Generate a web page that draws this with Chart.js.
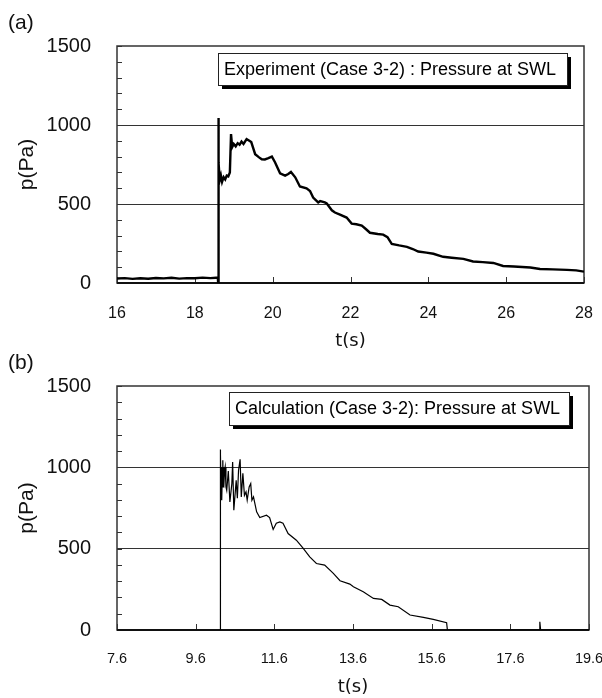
<!DOCTYPE html>
<html>
<head>
<meta charset="utf-8">
<script src="https://cdn.jsdelivr.net/npm/chart.js@4.4.1/dist/chart.umd.min.js"></script>
<style>
  body { margin: 0; background: #fff; }
  #wrap { position: relative; width: 602px; height: 698px; }
  canvas { position: absolute; left: 0; }
  .panel { position: absolute; font: 21px "Liberation Sans", Arial, sans-serif; color: #111; line-height: 1; }
</style>
</head>
<body>
<div id="wrap">
  <canvas id="chartA" width="602" height="352" style="top:0"></canvas>
  <canvas id="chartB" width="602" height="358" style="top:340px"></canvas>
  <div class="panel" style="left:8px;top:11px">(a)</div>
  <div class="panel" style="left:8px;top:351px">(b)</div>
</div>
<script>
// (a) experiment
const expTime = [16.0, 16.2, 16.4, 16.6, 16.8, 17.0, 17.2, 17.4, 17.6, 17.8, 18.0, 18.2, 18.4, 18.55, 18.59,
  18.6, 18.6, 18.61, 18.62, 18.64, 18.67, 18.70, 18.74, 18.78, 18.82, 18.86, 18.90, 18.93, 18.96, 19.0,
  19.05, 19.1, 19.15, 19.2, 19.25, 19.33, 19.4, 19.45, 19.55, 19.65, 19.72, 19.8, 19.89, 19.98, 20.06,
  20.19, 20.32, 20.40, 20.47, 20.58, 20.70, 20.87, 20.96, 21.04, 21.17, 21.22, 21.34, 21.39, 21.52, 21.60,
  21.73, 21.90, 22.03, 22.15, 22.29, 22.40, 22.50, 22.70, 22.84, 22.95, 23.06, 23.25, 23.45, 23.60, 23.74,
  23.95, 24.13, 24.38, 24.6, 24.90, 25.15, 25.4, 25.67, 25.92, 26.2, 26.62, 26.87, 27.2, 27.56, 27.8, 28.0];
const expPressure = [28, 31, 26, 30, 27, 32, 29, 33, 28, 31, 30, 34, 31, 33, 36,
  0, 1045, 900, 760, 650, 680, 640, 670, 655, 680, 675, 700, 943, 860, 880,
  865, 885, 875, 895, 880, 911, 900, 892, 815, 795, 783, 782, 790, 800, 764,
  694, 680, 690, 703, 669, 611, 599, 582, 541, 510, 518, 510, 503, 460, 446,
  433, 414, 376, 372, 363, 340, 318, 310, 306, 290, 248, 238, 229, 215, 199,
  192, 185, 166, 160, 153, 136, 132, 127, 108, 104, 98, 89, 86, 83, 80, 72];

// (b) calculation
const calcTime = [10.22, 10.22, 10.23, 10.24, 10.25, 10.26, 10.265, 10.28, 10.29, 10.30, 10.31, 10.32,
  10.335, 10.35, 10.37, 10.39, 10.43, 10.47, 10.52, 10.54, 10.57, 10.63, 10.66, 10.69, 10.73, 10.76,
  10.80, 10.84, 10.88, 10.91, 10.96, 11.0, 11.03, 11.07, 11.15, 11.23, 11.40, 11.48, 11.57, 11.65,
  11.74, 11.82, 11.95, 12.16, 12.33, 12.50, 12.67, 12.88, 13.10, 13.27, 13.52, 13.61, 13.86, 14.12,
  14.33, 14.54, 14.75, 15.05, 15.39, 15.64, 15.98, 16.0, 18.33, 18.35, 18.37, 19.6];
const calcPressure = [0, 1110, 900, 1080, 820, 1000, 798, 990, 1043, 880, 1000, 879,
  980, 1002, 880, 859, 977, 787, 900, 1033, 736, 920, 810, 982, 1049, 818,
  963, 828, 849, 798, 879, 900, 798, 818, 726, 691, 706, 691, 618, 656,
  664, 656, 593, 552, 503, 450, 409, 399, 348, 303, 282, 266, 235, 194,
  188, 153, 143, 92, 78, 65, 45, 0, 0, 51, 0, 0];

const xTicksA = [16, 18, 20, 22, 24, 26, 28];
const xTicksB = [7.6, 9.6, 11.6, 13.6, 15.6, 17.6, 19.6];
const yTicks = [0, 100, 200, 300, 400, 500, 600, 700, 800, 900, 1000, 1100, 1200, 1300, 1400, 1500];
const yLabels = [0, 500, 1000, 1500];

const framePlugin = {
    id: 'frame',
    beforeDatasetsDraw(chart) {
        const {ctx, chartArea: a, scales: {x, y}} = chart;
        ctx.save();
        ctx.strokeStyle = '#333';
        ctx.lineWidth = 1.5;
        ctx.strokeRect(a.left, a.top, a.right - a.left, a.bottom - a.top);
        ctx.lineWidth = 1;
        y.ticks.forEach(t => {
            const py = Math.round(y.getPixelForValue(t.value)) + 0.5;
            ctx.beginPath(); ctx.moveTo(a.left, py); ctx.lineTo(a.left + 5, py); ctx.stroke();
        });
        x.ticks.forEach(t => {
            const px = Math.round(x.getPixelForValue(t.value)) + 0.5;
            ctx.beginPath(); ctx.moveTo(px, a.bottom); ctx.lineTo(px, a.bottom - 6); ctx.stroke();
        });
        ctx.strokeStyle = '#111';
        ctx.lineWidth = 2;
        ctx.beginPath(); ctx.moveTo(a.left, a.bottom); ctx.lineTo(a.right, a.bottom); ctx.stroke();
        ctx.restore();
    },
    afterDatasetsDraw(chart, args, opts) {
        const {ctx} = chart;
        const [bx, by, bw, bh] = opts.box;
        ctx.save();
        ctx.fillStyle = '#000';
        ctx.fillRect(bx + 4, by + 4, bw, bh);
        ctx.fillStyle = '#fff';
        ctx.fillRect(bx, by, bw, bh);
        ctx.strokeStyle = '#222';
        ctx.lineWidth = 1;
        ctx.strokeRect(bx + 0.5, by + 0.5, bw, bh);
        ctx.fillStyle = '#000';
        ctx.font = '18px "Liberation Sans", Arial, sans-serif';
        ctx.textBaseline = 'middle';
        ctx.fillText(opts.text, opts.textX, by + bh / 2 + 1);
        ctx.restore();
    }
};

function makeChart(id, times, values, xTicks, xMin, xMax, lineWidth, pad, xAxisH, xFont, xPad, frameOpts) {
    const ctx = document.getElementById(id).getContext('2d');
    return new Chart(ctx, {
        type: 'line',
        data: {
            datasets: [{
                data: times.map((t, i) => ({x: t, y: values[i]})),
                borderColor: '#000',
                borderWidth: lineWidth,
                pointRadius: 0,
                tension: 0,
                fill: false
            }]
        },
        options: {
            responsive: false,
            animation: false,
            layout: { padding: pad },
            scales: {
                x: {
                    type: 'linear',
                    min: xMin,
                    max: xMax,
                    afterBuildTicks: (scale) => { scale.ticks = xTicks.map(v => ({value: v})); },
                    afterFit: (scale) => { scale.height = xAxisH; scale.paddingLeft = 0; scale.paddingRight = 0; },
                    ticks: {
                        padding: xPad,
                        maxRotation: 0,
                        autoSkip: false,
                        color: '#111',
                        font: { family: '"Liberation Sans", Arial, sans-serif', size: xFont },
                        callback: (v) => (Number.isInteger(v) ? v : v.toFixed(1))
                    },
                    grid: { display: false },
                    border: { display: false },
                    title: {
                        display: true,
                        text: 't(s)',
                        color: '#111',
                        padding: { top: 0, bottom: 0 },
                        font: { family: '"DejaVu Sans", sans-serif', size: 18 }
                    }
                },
                y: {
                    min: 0,
                    max: 1500,
                    afterBuildTicks: (scale) => { scale.ticks = yTicks.map(v => ({value: v})); },
                    afterFit: (scale) => { scale.width = 117; },
                    ticks: {
                        padding: 26,
                        autoSkip: false,
                        color: '#111',
                        font: { family: '"Liberation Sans", Arial, sans-serif', size: 20 },
                        callback: (v) => (yLabels.includes(v) ? v : '')
                    },
                    grid: {
                        drawTicks: false,
                        color: (c) => (c.tick && (c.tick.value === 500 || c.tick.value === 1000) ? '#333' : 'rgba(0,0,0,0)'),
                        lineWidth: 1
                    },
                    border: { display: false },
                    title: {
                        display: true,
                        text: 'p(Pa)',
                        color: '#111',
                        padding: { top: 15, bottom: 0 },
                        font: { family: '"Liberation Sans", Arial, sans-serif', size: 21 }
                    }
                }
            },
            plugins: {
                legend: { display: false },
                tooltip: { enabled: false },
                frame: frameOpts
            }
        },
        plugins: [framePlugin]
    });
}

document.addEventListener('DOMContentLoaded', () => {
    makeChart('chartA', expTime, expPressure, xTicksA, 16, 28, 2.4,
        { left: 0, top: 46, right: 18, bottom: 0 }, 69, 16, 13,
        { box: [218, 53, 349, 32], text: 'Experiment (Case 3-2) : Pressure at SWL', textX: 224 });
    makeChart('chartB', calcTime, calcPressure, xTicksB, 7.6, 19.6, 1.2,
        { left: 0, top: 46, right: 13, bottom: 0 }, 68, 14.5, 12,
        { box: [229, 52, 340, 33], text: 'Calculation (Case 3-2): Pressure at SWL', textX: 235 });
});
</script>
</body>
</html>
